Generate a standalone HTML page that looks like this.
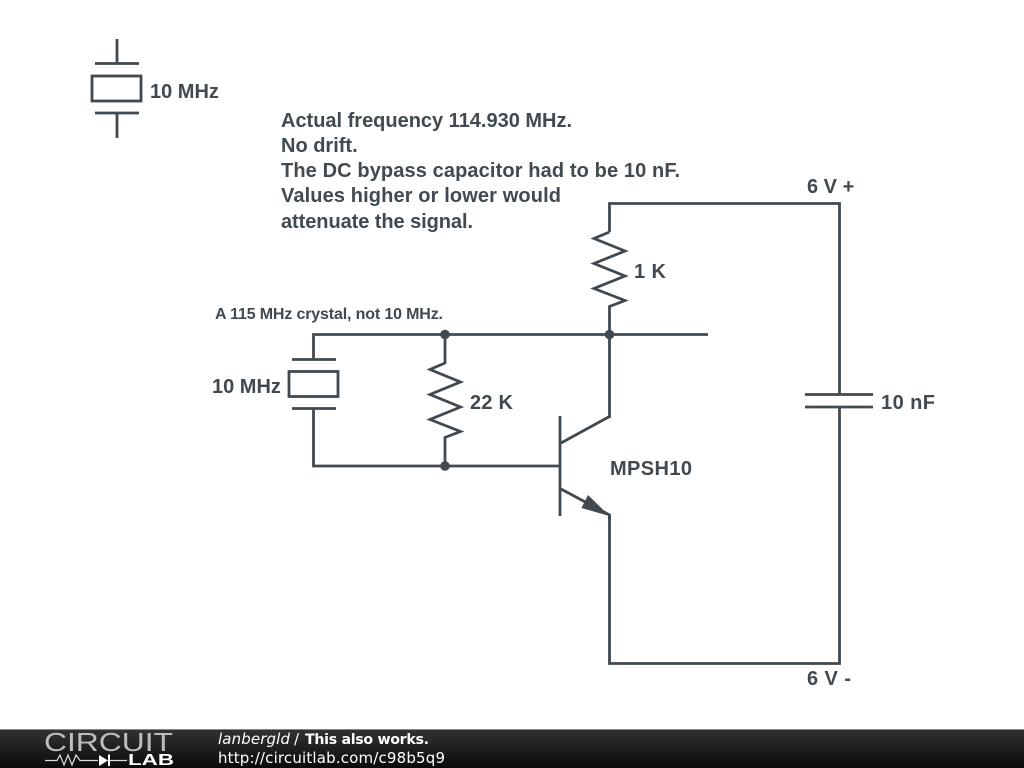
<!DOCTYPE html>
<html><head><meta charset="utf-8"><style>
html,body{margin:0;padding:0;background:#fff;width:1024px;height:768px;overflow:hidden}
svg{display:block}
.t{font-family:"Liberation Sans",sans-serif;font-weight:bold;font-size:20px;fill:#404a50}
.w{fill:none;stroke:#404a50;stroke-width:2.8;stroke-linecap:butt;stroke-linejoin:miter}
.f{font-family:"DejaVu Sans",sans-serif;font-size:15px;fill:#fff}
</style></head><body>
<svg width="1024" height="768" viewBox="0 0 1024 768" xmlns="http://www.w3.org/2000/svg">
<defs><linearGradient id="g" x1="0" y1="0" x2="0" y2="1"><stop offset="0" stop-color="#333"/><stop offset="1" stop-color="#0a0a0a"/></linearGradient></defs>
<rect width="1024" height="768" fill="#fff"/>

<!-- top crystal -->
<path class="w" d="M117 39V63.500M95 63.500H139M95 113H139M117 113V138"/>
<rect class="w" x="92" y="76" width="49" height="25"/>
<text class="t" x="150" y="98">10 MHz</text>

<!-- notes -->
<text class="t" x="281" y="127" textLength="291">Actual frequency 114.930 MHz.</text>
<text class="t" x="281" y="152">No drift.</text>
<text class="t" x="281" y="177" textLength="399">The DC bypass capacitor had to be 10 nF.</text>
<text class="t" x="281" y="202" textLength="280">Values higher or lower would</text>
<text class="t" x="281" y="228" textLength="192">attenuate the signal.</text>

<!-- power and resistor 1K -->
<path class="w" d="M609.500 232V203.500H839.500V394M839.500 407V663.500H609.500V516"/>
<path class="w" d="M609.500 232L594 238.500L625 251L594 263.500L625 276L594 288.500L625 300.500L609.500 306.500V418"/>
<path class="w" d="M805 394.500H873M805 407H873"/>
<text class="t" x="807" y="193">6 V +</text>
<text class="t" x="807" y="685" textLength="44">6 V -</text>
<text class="t" x="881" y="409" textLength="54">10 nF</text>
<text class="t" x="634" y="278" textLength="32">1 K</text>

<!-- bus -->
<path class="w" d="M708 334.500H313.500V359M292 359.500H336M292 408.500H336M313.500 408V466H560"/>
<rect class="w" x="289" y="371.500" width="49" height="25"/>
<text class="t" x="212" y="393">10 MHz</text>
<text class="t" style="font-size:16px" x="215" y="319" textLength="228">A 115 MHz crystal, not 10 MHz.</text>

<!-- 22K -->
<path class="w" d="M445 334V363L430 369.500L460.500 382L430 394.500L460.500 407L430 419.500L460.500 431.500L445 437.500V466"/>
<text class="t" x="470" y="409" textLength="43">22 K</text>
<circle cx="445" cy="334.500" r="4.800" fill="#404a50"/>
<circle cx="445" cy="466" r="4.800" fill="#404a50"/>
<circle cx="609.500" cy="334.500" r="4.800" fill="#404a50"/>

<!-- transistor -->
<path class="w" d="M560 416V516M561 443L609.500 416.500M561 489L609.500 515V520"/>
<path d="M609.500 516L581.500 508L588 495Z" fill="#404a50"/>
<text class="t" x="610" y="475" textLength="82">MPSH10</text>

<!-- footer -->
<rect x="0" y="729" width="1024" height="39" fill="url(#g)"/>
<rect x="0" y="729" width="1024" height="1" fill="#888"/>
<text x="44" y="751" textLength="129" lengthAdjust="spacingAndGlyphs" style="font-family:'Liberation Sans',sans-serif;font-size:26px;fill:#bdbdbd">CIRCUIT</text>
<path d="M45 760.500H57L60 755L64 765L68 755L72 765L76 755L80 760.500H98M110 760.500H127" fill="none" stroke="#ddd" stroke-width="1.200"/>
<path d="M99 755V766L108 760.500Z M108 754.500H110V766H108Z" fill="#fff"/>
<text x="128" y="765" textLength="46" lengthAdjust="spacingAndGlyphs" style="font-family:'Liberation Sans',sans-serif;font-weight:bold;font-size:15.500px;fill:#fff">LAB</text>
<text class="f" x="218" y="744" font-style="italic" textLength="72">lanbergld</text>
<text class="f" x="294" y="744">/</text>
<text class="f" x="305" y="744" font-weight="bold" style="font-size:14.200px" textLength="124">This also works.</text>
<text class="f" x="218" y="763" textLength="227">http://circuitlab.com/c98b5q9</text>
</svg>
</body></html>
